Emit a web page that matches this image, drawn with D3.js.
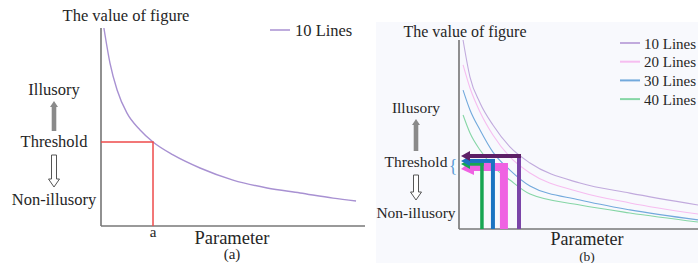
<!DOCTYPE html>
<html>
<head>
<meta charset="utf-8">
<script src="https://cdn.jsdelivr.net/npm/d3@7"></script>
<style>
  html, body { margin: 0; padding: 0; background: #fff; }
  svg { display: block; }
  text { font-family: "Liberation Serif", "Times New Roman", serif; fill: #262626; }
</style>
</head>
<body>
<svg id="chart" width="698" height="263"></svg>
<script>
// ---- data ----
// panel (a): one curve, parameter vs value of figure (0..100 both axes)
const A_PARAM = [1.1, 3.4, 6.1, 9.8, 14.8, 19.7, 27.3, 37.5, 50, 62.9, 75.4, 87.9, 96.6];
const A_VALUE = [100, 82.3, 68.7, 57.1, 48.5, 42.4, 35.9, 29.3, 23.2, 19.2, 16.7, 14.1, 12.6];
const A_THRESHOLD = [19.7, 42.4]; // [parameter a, threshold value]

// panel (b): four curves sharing parameter samples
const B_SERIES = ["10 Lines", "20 Lines", "30 Lines", "40 Lines"];
const B_PARAM = [1.7, 4.6, 8.8, 14.2, 21.3, 29.7, 50.6, 71.5, 100];
const B_10 = [100, 80.4, 66.7, 55.0, 43.4, 34.9, 24.3, 19.0, 12.7];
const B_20 = [86.8, 74.6, 61.9, 49.7, 38.1, 29.6, 19.6, 13.8, 7.9];
const B_30 = [73.5, 63.0, 52.4, 40.7, 31.2, 22.8, 15.3, 10.1, 4.8];
const B_40 = [60.3, 50.8, 41.8, 33.3, 25.9, 18.5, 12.7, 8.5, 3.7];
const B_VALUES = [B_10, B_20, B_30, B_40];
// threshold markers per series: parameter where crossed, and level of the arrow
const B_THRESH_X = [25.1, 18.8, 14.2, 9.6];
const B_THRESH_Y = [38.6, 32.8, 36.0, 34.4];

const CURVE_COLORS = ["#c1aadd", "#f6bdf0", "#72a9dc", "#86d6a6"];
const MARK_COLORS = ["#7b45a8", "#ef62e2", "#1b74c2", "#17a652"];
const MARK_WIDTHS = [4, 8, 4, 3.5];

const svg = d3.select("#chart");

// panel b backdrop
svg.append("rect").attr("x", 376).attr("y", 22).attr("width", 322).attr("height", 241)
  .attr("fill", "#f8f9fd");

function leftLabels(g, cx, yIll, yThr, yNon, fs) {
  g.append("text").attr("x", cx).attr("y", yIll).attr("text-anchor", "middle")
    .style("font-size", fs).text("Illusory");
  g.append("text").attr("x", cx).attr("y", yThr).attr("text-anchor", "middle")
    .style("font-size", fs).text("Threshold");
  g.append("text").attr("x", cx).attr("y", yNon).attr("text-anchor", "middle")
    .style("font-size", fs).text("Non-illusory");
  // solid grey arrow up
  const t = yIll + 6, b = yThr - 16;
  g.append("path")
    .attr("d", `M${cx - 2.3},${b} L${cx - 2.3},${t + 6} L${cx - 4},${t + 6} L${cx},${t} ` +
      `L${cx + 4},${t + 6} L${cx + 2.3},${t + 6} L${cx + 2.3},${b} Z`)
    .attr("fill", "#8a8a8a");
  // hollow arrow down
  const t2 = yThr + 8, b2 = yNon - 18;
  g.append("path")
    .attr("d", `M${cx - 2.5},${t2} L${cx - 2.5},${b2 - 8} L${cx - 5.5},${b2 - 8} L${cx},${b2} ` +
      `L${cx + 5.5},${b2 - 8} L${cx + 2.5},${b2 - 8} L${cx + 2.5},${t2} Z`)
    .attr("fill", "#fff").attr("stroke", "#555").attr("stroke-width", 1);
}

function axes(g, x, y, xEnd) {
  g.append("line").attr("x1", x.range()[0]).attr("x2", x.range()[0])
    .attr("y1", y.range()[1]).attr("y2", y.range()[0])
    .attr("stroke", "#555").attr("stroke-width", 1.3);
  g.append("line").attr("x1", x.range()[0]).attr("x2", xEnd)
    .attr("y1", y.range()[0]).attr("y2", y.range()[0])
    .attr("stroke", "#777").attr("stroke-width", 1.5);
}

// ---- PANEL (a) ----
const ga = svg.append("g");
const xa = d3.scaleLinear().domain([0, 100]).range([101, 365]);
const ya = d3.scaleLinear().domain([0, 100]).range([226, 28]);
axes(ga, xa, ya, 365);
const lineA = d3.line().x((d) => xa(d[0])).y((d) => ya(d[1])).curve(d3.curveMonotoneX);
ga.append("path").datum(d3.zip(A_PARAM, A_VALUE)).attr("d", lineA)
  .attr("fill", "none").attr("stroke", "#a891d2").attr("stroke-width", 1.4);
ga.append("path")
  .attr("d", `M${xa(0)},${ya(A_THRESHOLD[1])} H${xa(A_THRESHOLD[0])} V${ya(0)}`)
  .attr("fill", "none").attr("stroke", "#ee4b4b").attr("stroke-width", 1.5);
ga.append("text").attr("x", 126).attr("y", 21).attr("text-anchor", "middle")
  .style("font-size", "16.5px").text("The value of figure");
ga.append("line").attr("x1", 270).attr("x2", 290).attr("y1", 30).attr("y2", 30)
  .attr("stroke", "#a891d2").attr("stroke-width", 1.5);
ga.append("text").attr("x", 295).attr("y", 35.5).style("font-size", "16.5px").text("10 Lines");
leftLabels(ga, 54, 95, 147, 205, "16.5px");
ga.append("text").attr("x", xa(A_THRESHOLD[0])).attr("y", 237).attr("text-anchor", "middle")
  .style("font-size", "15px").text("a");
ga.append("text").attr("x", 232).attr("y", 243.5).attr("text-anchor", "middle")
  .style("font-size", "18.5px").text("Parameter");
ga.append("text").attr("x", 232).attr("y", 259).attr("text-anchor", "middle")
  .style("font-size", "15px").text("(a)");

// ---- PANEL (b) ----
const gb = svg.append("g");
const xb = d3.scaleLinear().domain([0, 100]).range([459, 698]);
const yb = d3.scaleLinear().domain([0, 100]).range([229, 40]);
axes(gb, xb, yb, 698);
const lineB = d3.line().x((d) => xb(d[0])).y((d) => yb(d[1])).curve(d3.curveMonotoneX);
gb.append("g").selectAll("path").data(B_VALUES).join("path")
  .attr("d", (vals) => lineB(d3.zip(B_PARAM, vals)))
  .attr("fill", "none").attr("stroke", (d, i) => CURVE_COLORS[i]).attr("stroke-width", 1.1);

// threshold markers: draw pink first, then green, blue, purple on top
const order = [1, 3, 2, 0];
const marks = gb.append("g");
order.forEach((i) => {
  const xv = xb(B_THRESH_X[i]), yv = yb(B_THRESH_Y[i]);
  const w = MARK_WIDTHS[i];
  const tip = xb(0) + 2, head = w > 5 ? 13 : 9, half = w > 5 ? 8 : 5;
  const hColor = i === 0 ? "#5d1f66" : MARK_COLORS[i];
  // vertical leg
  marks.append("line").attr("x1", xv).attr("x2", xv).attr("y1", yb(0)).attr("y2", yv - w / 2)
    .attr("stroke", MARK_COLORS[i]).attr("stroke-width", w);
  // horizontal leg
  marks.append("line").attr("x1", xv + w / 2).attr("x2", tip + head - 1).attr("y1", yv).attr("y2", yv)
    .attr("stroke", hColor).attr("stroke-width", w);
  // arrow head
  marks.append("path")
    .attr("d", `M${tip},${yv + (w > 5 ? 2 : 0)} L${tip + head},${yv - half} L${tip + head},${yv + half} Z`)
    .attr("fill", hColor);
});
// blue brace
gb.append("text").attr("x", 457.5).attr("y", 172).attr("text-anchor", "end")
  .style("font-size", "18px").style("fill", "#5b9bd5").text("{");

gb.append("text").attr("x", 465).attr("y", 37).attr("text-anchor", "middle")
  .style("font-size", "16px").text("The value of figure");
leftLabels(gb, 416, 113, 167, 218, "15.5px");
gb.append("text").attr("x", 587).attr("y", 245).attr("text-anchor", "middle")
  .style("font-size", "18px").text("Parameter");
gb.append("text").attr("x", 587).attr("y", 261).attr("text-anchor", "middle")
  .style("font-size", "13.5px").text("(b)");

// legend (b)
const leg = gb.append("g").selectAll("g").data(B_SERIES).join("g")
  .attr("transform", (d, i) => `translate(620,${43 + i * 18.7})`);
leg.append("line").attr("x1", 0).attr("x2", 20)
  .attr("stroke", (d, i) => CURVE_COLORS[i]).attr("stroke-width", 2);
leg.append("text").attr("x", 24).attr("y", 5.5).style("font-size", "15px").text((d) => d);
</script>
</body>
</html>
